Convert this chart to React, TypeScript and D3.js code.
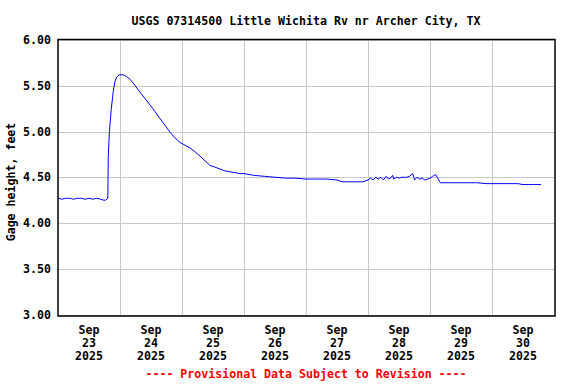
import * as d3 from "d3";
import React from "react";

// hours after Sep 23 2025 00:00
const hours = [
  0, 1.5, 3, 4.5, 6, 7.5, 9, 10.5, 12, 13.5, 15, 16.5, 17.5, 18.5, 19.3,
  19.45, 19.9, 20.6, 21.4, 22.0, 22.6, 23.7, 25.3, 26.6, 27.9, 29.1,
  31.7, 33.7, 35.6, 37.5, 39.5, 41.4, 43.4, 45.3, 47.2, 49.2, 51.1, 53.0,
  55.0, 56.9, 58.8, 60.8, 62.7, 64.6, 66.6, 68.5, 70.5,
  72, 76, 80, 84, 88, 92, 96, 100, 104, 108, 110, 114, 118, 120,
  121, 122, 123, 124, 125, 126, 127, 128, 129, 129.5, 130, 131, 132, 133,
  134, 135, 136, 137.3, 137.8, 138, 139, 140, 141, 142, 143, 144, 145,
  146.2, 146.8, 147.4, 148,
  150, 154, 158, 162, 166, 170, 174, 178, 180, 184, 187,
];
const gage = [
  4.27, 4.26, 4.27, 4.27, 4.26, 4.27, 4.27, 4.26, 4.27, 4.26, 4.27, 4.26, 4.25, 4.25, 4.27,
  4.72, 5.0, 5.24, 5.44, 5.54, 5.59, 5.62, 5.62, 5.6, 5.57, 5.53,
  5.43, 5.36, 5.29, 5.22, 5.14, 5.07, 4.99, 4.93, 4.88, 4.85, 4.82, 4.78,
  4.73, 4.68, 4.63, 4.61, 4.59, 4.57, 4.56, 4.55, 4.54,
  4.54, 4.52, 4.51, 4.5, 4.49, 4.49, 4.48, 4.48, 4.48, 4.47, 4.45, 4.45, 4.45, 4.47,
  4.49, 4.47, 4.5, 4.48, 4.5, 4.47, 4.51, 4.48, 4.5, 4.52, 4.48, 4.5, 4.49, 4.5,
  4.5, 4.5, 4.51, 4.54, 4.5, 4.47, 4.5, 4.48, 4.49, 4.47, 4.48, 4.49, 4.51,
  4.53, 4.5, 4.47, 4.44,
  4.44, 4.44, 4.44, 4.44, 4.43, 4.43, 4.43, 4.43, 4.42, 4.42, 4.42,
];
const yTicks = [3.0, 3.5, 4.0, 4.5, 5.0, 5.5, 6.0];
const dayLabels = ["23", "24", "25", "26", "27", "28", "29", "30"];

const title = "USGS 07314500 Little Wichita Rv nr Archer City, TX";
const yTitle = "Gage height, feet";
const footer = "---- Provisional Data Subject to Revision ----";

const W = 576;
const H = 384;
const left = 58;
const right = 554;
const top = 40;
const bottom = 314.5;

const start = new Date(2025, 8, 23);
const end = new Date(2025, 9, 1);

const font = {
  fontFamily: "'DejaVu Sans Mono', monospace",
  fontWeight: "bold",
  fontSize: 11.6,
};

export default function App() {
  const x = d3.scaleTime().domain([start, end]).range([left, right]);
  const y = d3.scaleLinear().domain([3, 6]).range([bottom, top]);

  const pts = hours.map((h, i) => ({
    t: start.getTime() + h * 3600 * 1000,
    v: gage[i],
  }));
  const line = d3
    .line<any>()
    .x((d) => x(new Date(d.t)))
    .y((d) => y(d.v));

  const days = d3.timeDay.range(start, end);
  const midnights = days.slice(1);

  return (
    <svg
      width={W}
      height={H}
      style={{ position: "absolute", left: 0, top: 0, background: "#fff" }}
    >
      <rect width={W} height={H} fill="#fff" />
      <text x={306} y={25} textAnchor="middle" style={font} fill="#000">
        {title}
      </text>

      {yTicks.map((t) => (
        <line
          key={"h" + t}
          x1={left}
          x2={right}
          y1={Math.round(y(t)) + 0.5}
          y2={Math.round(y(t)) + 0.5}
          stroke="#c8c8c8"
        />
      ))}
      {midnights.map((d) => (
        <line
          key={"v" + d.getTime()}
          x1={Math.round(x(d)) + 0.5}
          x2={Math.round(x(d)) + 0.5}
          y1={top - 1}
          y2={bottom + 1.5}
          stroke="#c8c8c8"
        />
      ))}

      <path d={line(pts) || ""} fill="none" stroke="#0000ff" strokeWidth={1} />

      <rect
        x={left}
        y={39.5}
        width={right - left + 1}
        height={316 - 39.5}
        fill="none"
        stroke="#000"
        strokeWidth={1.5}
      />

      {yTicks.map((t) => (
        <text
          key={"yl" + t}
          x={51}
          y={y(t) + 4}
          textAnchor="end"
          style={font}
          fill="#000"
        >
          {t.toFixed(2)}
        </text>
      ))}

      <text
        transform={`translate(15,182) rotate(-90)`}
        textAnchor="middle"
        style={font}
        fill="#000"
      >
        {yTitle}
      </text>

      {days.map((d, i) => {
        const cx = x(d3.timeHour.offset(d, 12));
        return (
          <g key={"xl" + i} style={font} fill="#000">
            <text x={cx} y={334} textAnchor="middle">
              Sep
            </text>
            <text x={cx} y={347} textAnchor="middle">
              {dayLabels[i]}
            </text>
            <text x={cx} y={360} textAnchor="middle">
              2025
            </text>
          </g>
        );
      })}

      <text x={306} y={378} textAnchor="middle" style={font} fill="#ff0000">
        {footer}
      </text>
    </svg>
  );
}
